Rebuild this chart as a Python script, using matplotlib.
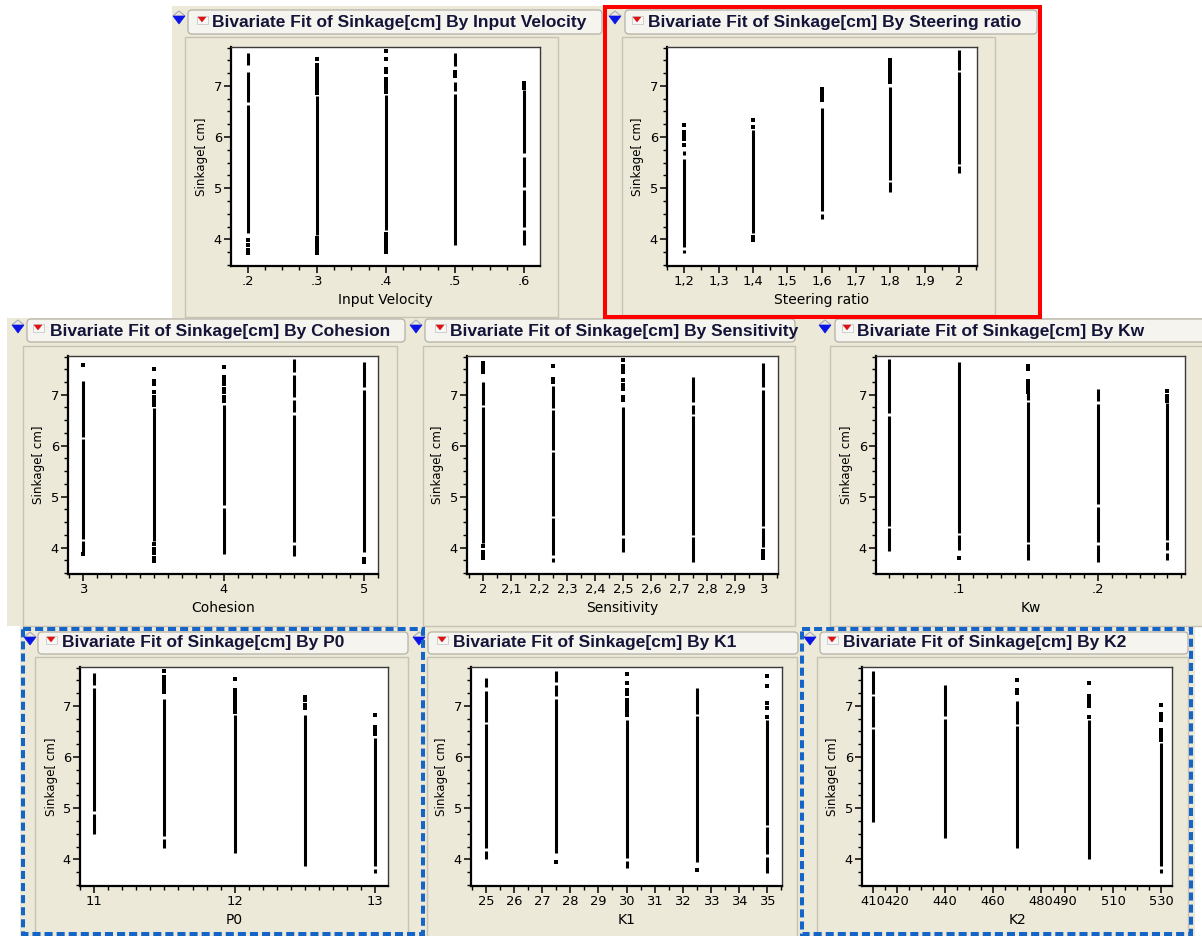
import matplotlib
matplotlib.use("Agg")
import matplotlib.pyplot as plt
from matplotlib.patches import Rectangle, FancyBboxPatch, Polygon
from matplotlib.ticker import MultipleLocator

# ---------------------------------------------------------------- data
# Each factor has five levels; for every level the sinkage values form
# dense runs (lo, hi) plus a few isolated observations.
sinkage_ticks = [4, 5, 6, 7]
sinkage_label = "Sinkage[ cm]"

velocity_levels = [0.2, 0.3, 0.4, 0.5, 0.6]
velocity_runs = [
    [(4.12, 6.62), (6.68, 7.27), (7.40, 7.64)],
    [(4.08, 6.80)],
    [(4.18, 6.82)],
    [(3.90, 6.85), (6.90, 7.08), (7.38, 7.64)],
    [(3.90, 4.18), (4.24, 4.97), (5.03, 5.62), (5.68, 6.92)],
]
velocity_dots = [
    [3.99, 3.89, 3.80, 3.74],
    [7.53, 7.40, 7.34, 7.27, 7.20, 7.12, 7.05, 6.98, 6.92, 6.86, 4.02, 3.96, 3.90, 3.82, 3.74],
    [7.68, 7.53, 7.33, 7.27, 7.14, 7.08, 7.01, 6.95, 6.88, 4.10, 4.02, 3.95, 3.88, 3.82, 3.76],
    [7.27, 7.20],
    [7.06, 7.00, 6.96],
]
velocity_ticks = [0.2, 0.3, 0.4, 0.5, 0.6]
velocity_ticklabels = [".2", ".3", ".4", ".5", ".6"]

steering_levels = [1.2, 1.4, 1.6, 1.8, 2.0]
steering_runs = [
    [(3.74, 3.80), (3.86, 5.58), (5.64, 5.72)],
    [(4.12, 6.13)],
    [(4.40, 4.50), (4.56, 6.56)],
    [(4.92, 5.12), (5.17, 6.98)],
    [(5.30, 5.43), (5.48, 7.27), (7.32, 7.70)],
]
steering_dots = [
    [6.23, 6.10, 6.04, 5.97, 5.84],
    [6.34, 6.20, 4.05, 3.99],
    [6.93, 6.86, 6.78, 6.72],
    [7.51, 7.42, 7.35, 7.27, 7.20, 7.13, 7.08],
    [],
]
steering_ticks = [1.2, 1.3, 1.4, 1.5, 1.6, 1.7, 1.8, 1.9, 2.0]
steering_ticklabels = ["1,2", "1,3", "1,4", "1,5", "1,6", "1,7", "1,8", "1,9", "2"]

cohesion_levels = [3.0, 3.5, 4.0, 4.5, 5.0]
cohesion_runs = [
    [(3.92, 4.12), (4.17, 6.13), (6.17, 7.26)],
    [(4.13, 6.73)],
    [(3.87, 4.78), (4.84, 6.79)],
    [(3.84, 4.05), (4.10, 6.60), (6.66, 6.90), (6.95, 7.38), (7.44, 7.70)],
    [(3.92, 7.10), (7.15, 7.64)],
]
cohesion_dots = [
    [7.58, 3.88],
    [7.51, 7.26, 7.21, 7.05, 6.95, 6.88, 6.80, 4.06, 3.98, 3.90, 3.80, 3.73],
    [7.54, 7.34, 7.28, 7.22, 7.12, 7.05, 6.95, 6.88],
    [],
    [3.78, 3.72],
]
cohesion_ticks = [3, 4, 5]
cohesion_ticklabels = ["3", "4", "5"]

sensitivity_levels = [2.0, 2.25, 2.5, 2.75, 3.0]
sensitivity_runs = [
    [(4.08, 6.76), (6.80, 7.24)],
    [(3.72, 3.80), (3.85, 4.57), (4.62, 5.87), (5.92, 6.70), (6.74, 7.18)],
    [(3.92, 4.18), (4.24, 6.76)],
    [(3.72, 4.20), (4.25, 6.58), (6.63, 6.80), (6.85, 7.34)],
    [(4.01, 4.38), (4.43, 7.10), (7.15, 7.63)],
]
sensitivity_dots = [
    [7.63, 7.57, 7.50, 7.44, 4.02, 3.92, 3.86, 3.79],
    [7.56, 7.31, 7.24],
    [7.68, 7.57, 7.50, 7.44, 7.28, 7.20, 7.12, 6.95, 6.89],
    [],
    [3.94, 3.87, 3.79],
]
sensitivity_ticks = [2.0, 2.1, 2.2, 2.3, 2.4, 2.5, 2.6, 2.7, 2.8, 2.9, 3.0]
sensitivity_ticklabels = ["2", "2,1", "2,2", "2,3", "2,4", "2,5", "2,6", "2,7", "2,8", "2,9", "3"]

kw_levels = [0.05, 0.10, 0.15, 0.20, 0.25]
kw_runs = [
    [(3.94, 4.38), (4.43, 6.58), (6.64, 7.70)],
    [(3.96, 4.24), (4.29, 7.65)],
    [(3.75, 4.06), (4.11, 6.85), (6.90, 7.03)],
    [(3.72, 4.05), (4.10, 4.80), (4.85, 6.82), (6.87, 7.12)],
    [(3.75, 3.90), (3.96, 4.10), (4.14, 6.84)],
]
kw_dots = [
    [],
    [3.79],
    [7.57, 7.50, 7.26, 7.20, 7.12, 7.06],
    [],
    [7.08, 6.97, 6.92, 6.87],
]
kw_ticks = [0.1, 0.2]
kw_ticklabels = [".1", ".2"]

p0_levels = [11.0, 11.5, 12.0, 12.5, 13.0]
p0_runs = [
    [(4.49, 4.89), (4.94, 7.35), (7.40, 7.64)],
    [(4.23, 4.40), (4.45, 7.14)],
    [(4.13, 6.82)],
    [(3.87, 6.82)],
    [(3.74, 3.82), (3.87, 6.37)],
]
p0_dots = [
    [],
    [7.68, 7.56, 7.50, 7.42, 7.35, 7.27],
    [7.53, 7.31, 7.25, 7.18, 7.10, 7.02, 6.95, 6.88],
    [7.18, 7.12, 7.02, 6.95],
    [6.82, 6.59, 6.53, 6.46],
]
p0_ticks = [11, 12, 13]
p0_ticklabels = ["11", "12", "13"]

k1_levels = [25.0, 27.5, 30.0, 32.5, 35.0]
k1_runs = [
    [(4.00, 4.17), (4.22, 6.64), (6.69, 7.30), (7.36, 7.55)],
    [(4.13, 7.14), (7.20, 7.40), (7.46, 7.68)],
    [(3.84, 3.97), (4.02, 6.72)],
    [(3.94, 6.80), (6.85, 7.34)],
    [(3.74, 4.05), (4.10, 4.63), (4.68, 6.72)],
]
k1_dots = [
    [],
    [3.94],
    [7.63, 7.44, 7.31, 7.24, 7.11, 7.05, 6.98, 6.90, 6.82],
    [3.79],
    [7.58, 7.38, 7.05, 6.95, 6.79],
]
k1_ticks = [25, 26, 27, 28, 29, 30, 31, 32, 33, 34, 35]
k1_ticklabels = ["25", "26", "27", "28", "29", "30", "31", "32", "33", "34", "35"]

k2_levels = [410, 440, 470, 500, 530]
k2_runs = [
    [(4.73, 6.54), (6.59, 7.19), (7.24, 7.69)],
    [(4.42, 6.75), (6.80, 7.40)],
    [(4.23, 6.60), (6.65, 7.10)],
    [(4.01, 6.73)],
    [(3.73, 3.82), (3.87, 6.27)],
]
k2_dots = [
    [],
    [],
    [7.51, 7.32, 7.25],
    [7.45, 7.19, 7.12, 7.05, 7.00, 6.79],
    [7.01, 6.85, 6.79, 6.72, 6.53, 6.46, 6.39, 6.33],
]
k2_ticks = [410, 420, 440, 460, 480, 490, 510, 530]
k2_ticklabels = ["410", "420", "440", "460", "480", "490", "510", "530"]

titles = [
    "Bivariate Fit of Sinkage[cm] By Input Velocity",
    "Bivariate Fit of Sinkage[cm] By Steering ratio",
    "Bivariate Fit of Sinkage[cm] By Cohesion",
    "Bivariate Fit of Sinkage[cm] By Sensitivity",
    "Bivariate Fit of Sinkage[cm] By Kw",
    "Bivariate Fit of Sinkage[cm] By P0",
    "Bivariate Fit of Sinkage[cm] By K1",
    "Bivariate Fit of Sinkage[cm] By K2",
]
xlabels = ["Input Velocity", "Steering ratio", "Cohesion", "Sensitivity",
           "Kw", "P0", "K1", "K2"]

# ---------------------------------------------------------------- page
W, H = 1202, 936
BEIGE = "#ECE9D8"
TITLE_COLOR = "#141438"

fig = plt.figure(figsize=(W / 100, H / 100), dpi=100)
fig.patch.set_facecolor("white")

# full-page canvas in pixel units (y downwards) for the window chrome
canvas = fig.add_axes([0, 0, 1, 1])
canvas.set_xlim(0, W)
canvas.set_ylim(H, 0)
canvas.axis("off")
canvas.set_zorder(0)


def rect(x0, y0, x1, y1, **kw):
    canvas.add_patch(Rectangle((x0, y0), x1 - x0, y1 - y0, **kw))


# beige report backgrounds
rect(172, 6, 1040, 318, facecolor=BEIGE, edgecolor="none")
rect(7, 318, 1202, 626, facecolor=BEIGE, edgecolor="none")
rect(20, 626, 1195, 936, facecolor=BEIGE, edgecolor="none")

# layout of each report: header box, disclosure icon, menu icon, title x,
# framed plot box and plot area (pixel coordinates)
layout = [
    dict(head=(188, 602, 10, 34), tri=(179, 16), menu=(202, 20), tx=212, ty=22.5,
         box=(185, 37, 558, 317), ax=(231, 47, 540, 266),
         xlim=(0.176, 0.623), minor=0.025),
    dict(head=(625, 1037, 10, 34), tri=(615, 16), menu=(637, 20), tx=648, ty=22.5,
         box=(622, 37, 995, 315), ax=(667, 47, 977, 266),
         xlim=(1.15, 2.052), minor=0.05),
    dict(head=(27, 405, 319, 342), tri=(18, 325), menu=(38, 328), tx=50, ty=331.5,
         box=(23, 346, 397, 626), ax=(68, 356, 378, 574),
         xlim=(2.89, 5.10), minor=0.1),
    dict(head=(425, 795, 319, 342), tri=(416, 325), menu=(440, 328), tx=450, ty=331.5,
         box=(423, 346, 795, 626), ax=(467, 356, 778, 574),
         xlim=(1.943, 3.054), minor=0.05),
    dict(head=(835, 1212, 319, 342), tri=(825, 325), menu=(847, 328), tx=857, ty=331.5,
         box=(830, 346, 1212, 626), ax=(876, 356, 1185, 574),
         xlim=(0.0403, 0.2626), minor=0.01),
    dict(head=(38, 408, 632, 654), tri=(30, 637), menu=(51, 640), tx=62, ty=643,
         box=(35, 657, 408, 940), ax=(80, 667, 388, 886),
         xlim=(10.9, 13.09), minor=0.1),
    dict(head=(428, 798, 632, 654), tri=(419, 637), menu=(442, 640), tx=453, ty=643,
         box=(427, 657, 797, 940), ax=(471, 667, 782, 886),
         xlim=(24.47, 35.53), minor=0.5),
    dict(head=(820, 1188, 632, 654), tri=(810, 637), menu=(832, 640), tx=843, ty=643,
         box=(817, 657, 1188, 940), ax=(862, 667, 1172, 886),
         xlim=(405.4, 534.6), minor=5),
]

series = [
    (velocity_levels, velocity_runs, velocity_dots, velocity_ticks, velocity_ticklabels),
    (steering_levels, steering_runs, steering_dots, steering_ticks, steering_ticklabels),
    (cohesion_levels, cohesion_runs, cohesion_dots, cohesion_ticks, cohesion_ticklabels),
    (sensitivity_levels, sensitivity_runs, sensitivity_dots, sensitivity_ticks, sensitivity_ticklabels),
    (kw_levels, kw_runs, kw_dots, kw_ticks, kw_ticklabels),
    (p0_levels, p0_runs, p0_dots, p0_ticks, p0_ticklabels),
    (k1_levels, k1_runs, k1_dots, k1_ticks, k1_ticklabels),
    (k2_levels, k2_runs, k2_dots, k2_ticks, k2_ticklabels),
]


def draw_chrome(spec, title):
    hx0, hx1, hy0, hy1 = spec["head"]
    canvas.add_patch(FancyBboxPatch((hx0, hy0), hx1 - hx0, hy1 - hy0,
                                    boxstyle="round,pad=0,rounding_size=4",
                                    facecolor="#F5F4EF", edgecolor="#B4B1A6", linewidth=0.9))
    bx0, by0, bx1, by1 = spec["box"]
    rect(bx0, by0, bx1, by1, facecolor=BEIGE, edgecolor="#C6C3B5", linewidth=1.0)
    # disclosure triangle
    cx, cy = spec["tri"]
    canvas.add_patch(Polygon([(cx - 6, cy), (cx, cy - 5), (cx + 6, cy)], closed=False,
                             fill=False, edgecolor="#A8A8B8", linewidth=0.8))
    canvas.add_patch(Polygon([(cx - 6, cy), (cx + 6, cy), (cx, cy + 8)],
                             facecolor="#0A14E6", edgecolor="#0A14E6", linewidth=0.5))
    # red popup-menu icon
    mx, my = spec["menu"]
    rect(mx - 5.5, my - 4, mx + 5.5, my + 4, facecolor="#F8F8F8", edgecolor="#C8C8C8", linewidth=0.6)
    canvas.add_patch(Polygon([(mx - 4, my - 3), (mx + 4, my - 3), (mx, my + 2)],
                             facecolor="#E01010", edgecolor="#E01010", linewidth=0.3))
    canvas.text(spec["tx"], spec["ty"], title, fontsize=12.5, fontweight="bold",
                family="Liberation Sans", color=TITLE_COLOR, ha="left", va="center")


def draw_panel(spec, levels, runs, dots, ticks, ticklabels, xlabel):
    x0, y0, x1, y1 = spec["ax"]
    ax = fig.add_axes([x0 / W, 1 - y1 / H, (x1 - x0) / W, (y1 - y0) / H])
    ax.set_zorder(2)
    ax.set_facecolor("white")
    for x, rr, dd in zip(levels, runs, dots):
        ax.vlines([x] * len(rr), [r[0] for r in rr], [r[1] for r in rr],
                  colors="black", linewidth=2.2)
        if dd:
            ax.scatter([x] * len(dd), dd, marker="s", s=4.8, c="black",
                       linewidths=0, zorder=3)
    ax.set_xlim(*spec["xlim"])
    ax.set_ylim(3.48, 7.76)
    ax.set_xticks(ticks)
    ax.set_xticklabels(ticklabels)
    ax.xaxis.set_minor_locator(MultipleLocator(spec["minor"]))
    ax.set_yticks(sinkage_ticks)
    ax.set_yticklabels([str(v) for v in sinkage_ticks])
    ax.yaxis.set_minor_locator(MultipleLocator(0.25))
    ax.tick_params(which="major", direction="out", length=5, width=1.1,
                   labelsize=9.4, pad=1.5, colors="black")
    ax.tick_params(which="minor", direction="out", length=3, width=1.0, colors="black")
    for s in ("left", "bottom"):
        ax.spines[s].set_linewidth(1.6)
        ax.spines[s].set_color("black")
    for s in ("top", "right"):
        ax.spines[s].set_linewidth(1.0)
        ax.spines[s].set_color("#3A3A3A")
    ax.set_xlabel(xlabel, fontsize=10)
    ax.xaxis.set_label_coords(0.5, -0.155)
    ax.xaxis.label.set_va("center")
    ax.set_ylabel(sinkage_label, fontsize=8.6)
    ax.yaxis.set_label_coords(-0.094, 0.5)
    ax.yaxis.label.set_va("center")
    return ax


for spec, title, xl, (lv, rn, dt, tk, tl) in zip(layout, titles, xlabels, series):
    draw_chrome(spec, title)
    draw_panel(spec, lv, rn, dt, tk, tl, xl)

# highlight frames around selected reports
canvas.add_patch(Rectangle((605, 6.5), 1039.5 - 605, 316.5 - 6.5, fill=False,
                           edgecolor="#FF0000", linewidth=2.9, zorder=5))
for fx0, fx1 in ((22.5, 422.5), (801.5, 1190.5)):
    canvas.add_patch(Rectangle((fx0, 628.5), fx1 - fx0, 933.5 - 628.5, fill=False,
                               edgecolor="#1565C8", linewidth=2.9,
                               linestyle=(0, (2.0, 1.0)), zorder=5))

fig.savefig("out.png", dpi=100)
